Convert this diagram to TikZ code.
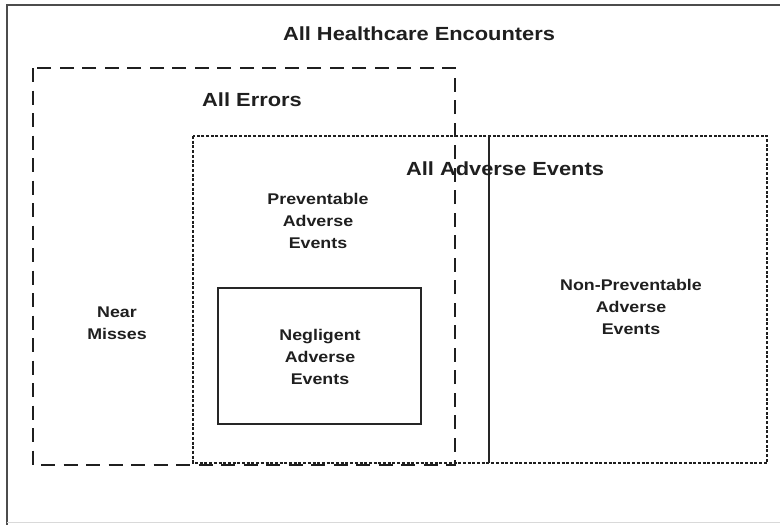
\documentclass[tikz,border=0pt]{standalone}
\usepackage{fontspec}
\setmainfont{Liberation Sans}
\usepackage{graphicx}
\newcommand{\wide}[1]{\scalebox{1.15}[1]{#1}}
\begin{document}
\begin{tikzpicture}[x=1pt,y=-1pt,
  bigtxt/.style={font=\bfseries\fontsize{19}{22}\selectfont, text=black!88, inner sep=0pt},
  smalltxt/.style={font=\bfseries\fontsize{15.5}{22}\selectfont, text=black!88, align=center, inner sep=0pt},
  errbox/.style={draw=black!88, line width=2pt, dash pattern=on 14pt off 8.5pt},
  aebox/.style={draw=black!88, line width=1.8pt, dash pattern=on 3pt off 1.7pt},
  solidbox/.style={draw=black!85, line width=1.8pt}]
\useasboundingbox (0,0) rectangle (780,525);
% outer frame
\draw[line width=2.2pt, black!70] (7,526) -- (7,5) -- (782,5);
\draw[line width=0.8pt, black!15] (7,522.5) -- (782,522.5);
% boxes
\draw[errbox] (33,68) rectangle (455,465);
\draw[aebox] (193,136) rectangle (767,463);
\draw[solidbox] (489,136) -- (489,463);
\draw[solidbox] (218,288) rectangle (421,424);
% labels
\node[bigtxt] (enc) at (419,34) {\wide{All Healthcare Encounters}};
\node[bigtxt] (err) at (252,100) {\wide{All Errors}};
\node[bigtxt] (ae) at (505,169) {\wide{All Adverse Events}};
\node[smalltxt] (pae) at (318,221) {\wide{Preventable}\\\wide{Adverse}\\\wide{Events}};
\node[smalltxt] (npae) at (631,307) {\wide{Non-Preventable}\\\wide{Adverse}\\\wide{Events}};
\node[smalltxt] (nm) at (117,323) {\wide{Near}\\\wide{Misses}};
\node[smalltxt] (nae) at (320,357) {\wide{Negligent}\\\wide{Adverse}\\\wide{Events}};
\end{tikzpicture}
\end{document}
